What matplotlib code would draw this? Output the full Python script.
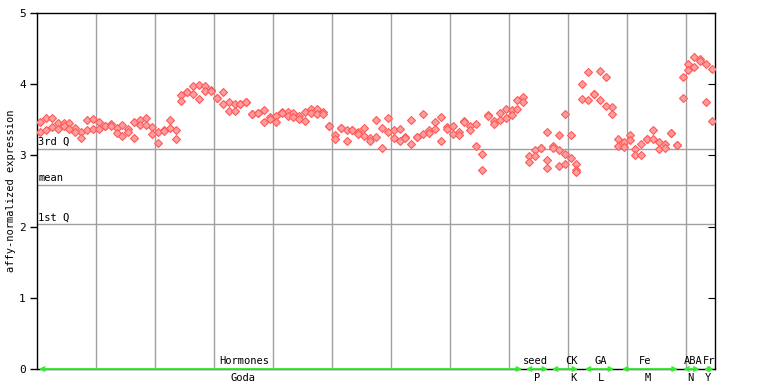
import matplotlib
matplotlib.use("Agg")
import matplotlib.pyplot as plt
import numpy as np

# replicate values per sample (index 0..114)
rep_a = [3.475, 3.526, 3.521, 3.452, 3.452, 3.452, 3.382, 3.326, 3.498, 3.512,
         3.475, 3.419, 3.438, 3.391, 3.428, 3.372, 3.465, 3.503, 3.526, 3.405,
         3.326, 3.359, 3.503, 3.363, 3.852, 3.885, 3.978, 3.992, 3.978, 3.920,
         3.800, 3.885, 3.754, 3.722, 3.722, 3.745, 3.582, 3.591, 3.638, 3.535,
         3.549, 3.605, 3.615, 3.596, 3.549, 3.615, 3.652, 3.652, 3.605, 3.419,
         3.289, 3.382, 3.363, 3.363, 3.335, 3.386, 3.242, 3.498, 3.386, 3.526,
         3.354, 3.372, 3.260, 3.503, 3.260, 3.582, 3.354, 3.465, 3.540, 3.395,
         3.410, 3.335, 3.489, 3.419, 3.442, 3.023, 3.563, 3.489, 3.596, 3.652,
         3.638, 3.777, 3.815, 2.995, 3.070, 3.107, 3.330, 3.126, 3.293, 3.582,
         3.293, 2.884, 4.000, 4.168, 3.857, 4.182, 4.099, 3.680, 3.233, 3.182,
         3.289, 3.093, 3.163, 3.233, 3.359, 3.182, 3.163, 3.312, 3.144, 4.099,
         4.280, 4.378, 4.350, 4.280, 4.210]
rep_b = [3.326, 3.363, 3.405, 3.368, 3.410, 3.372, 3.335, 3.242, 3.363, 3.372,
         3.372, 3.419, 3.410, 3.316, 3.270, 3.335, 3.251, 3.428, 3.428, 3.302,
         3.177, 3.340, 3.386, 3.233, 3.768, 3.885, 3.861, 3.791, 3.903, 3.907,
         3.800, 3.722, 3.628, 3.624, 3.722, 3.745, 3.582, 3.591, 3.475, 3.512,
         3.475, 3.591, 3.549, 3.535, 3.512, 3.489, 3.596, 3.582, 3.582, 3.419,
         3.233, 3.382, 3.205, 3.363, 3.302, 3.270, 3.205, 3.260, 3.107, 3.335,
         3.242, 3.200, 3.242, 3.163, 3.260, 3.302, 3.316, 3.372, 3.200, 3.372,
         3.302, 3.289, 3.465, 3.359, 3.130, 2.790, 3.549, 3.442, 3.498, 3.526,
         3.568, 3.652, 3.745, 2.911, 2.986, 3.107, 2.930, 3.107, 3.070, 3.023,
         2.967, 2.800, 3.791, 3.777, 3.857, 3.777, 3.694, 3.582, 3.135, 3.116,
         3.210, 3.009, 3.009, 3.233, 3.233, 3.093, 3.107, 3.312, 3.144, 3.805,
         4.196, 4.239, 4.320, 3.750, 3.485]
extra_idx = [86, 88, 89, 91]
extra_val = [2.828, 2.856, 2.884, 2.770]

quartile_names = ["3rd Q", "mean", "1st Q"]
quartile_vals = [3.094, 2.58, 2.03]

group_names = ["Hormones", "seed", "CK", "GA", "Fe", "ABA", "Fr"]
group_sub = ["Goda", "P", "K", "L", "M", "N", "Y"]
group_start = [-0.2, 82.4, 86.8, 92.4, 98.7, 109.1, 112.6]
group_end = [81.8, 86.2, 91.3, 97.4, 108.2, 111.9, 114.3]
group_label_x = [34.7, 84.1, 90.1, 95.1, 102.7, 110.8, 113.5]
group_sub_x = [34.4, 84.3, 90.5, 95.2, 103.1, 110.3, 113.3]

n = len(rep_a)
x = np.arange(n)
mono = "DejaVu Sans Mono"

fig = plt.figure(figsize=(7.68, 3.84), dpi=100)
ax = fig.add_axes([37 / 768, 15 / 384, 678 / 768, 356 / 384])

# vertical separators every 10 samples
for gx in np.arange(9.5, n - 1, 10):
    ax.axvline(gx, color="#a0a0a0", lw=1, zorder=1)
for qv in quartile_vals:
    ax.axhline(qv, color="#a0a0a0", lw=1, zorder=1)
for name, qv in zip(quartile_names, quartile_vals):
    ax.annotate(name, (0, qv), xycoords=("axes fraction", "data"),
                xytext=(1, 1.5), textcoords="offset points",
                family=mono, fontsize=7.5, va="bottom", ha="left")

mk = dict(ls="none", marker="D", ms=4.0, mfc="#ff9c9c", mec="#ff5a5a", mew=0.8, zorder=3)
ax.plot(x, rep_a, **mk)
ax.plot(x, rep_b, **mk)
ax.plot(extra_idx, extra_val, **mk)

# group arrows and labels along the bottom
for s, e, name, sub, lx, sx in zip(group_start, group_end, group_names, group_sub,
                                   group_label_x, group_sub_x):
    ax.annotate("", xy=(e, 0), xytext=(s, 0),
                arrowprops=dict(arrowstyle="<->", color="#33ee33", lw=1.3,
                                shrinkA=0, shrinkB=0, mutation_scale=7),
                annotation_clip=False, zorder=4)
    ax.annotate(name, (lx, 0), xytext=(0, 2), textcoords="offset points",
                family=mono, fontsize=7.5, ha="center", va="bottom")
    ax.annotate(sub, (sx, 0), xytext=(0, -3), textcoords="offset points",
                family=mono, fontsize=7.5, ha="center", va="top", annotation_clip=False)

ax.set_xlim(-0.5, n - 0.5)
ax.set_ylim(0, 5)
ax.set_xticks([])
ax.set_yticks(range(6))
ax.tick_params(axis="y", length=5, width=1, labelsize=8, pad=3)
for lbl in ax.get_yticklabels():
    lbl.set_family(mono)
ax.set_ylabel("affy-normalized expression", family=mono, fontsize=7.5, labelpad=2)

right = ax.secondary_yaxis("right")
right.set_yticks(range(6))
right.tick_params(direction="in", length=5, labelright=False)
right.spines["right"].set_visible(False)

for sp in ax.spines.values():
    sp.set_color("black")
    sp.set_linewidth(1)

fig.savefig("out.png", dpi=100)
